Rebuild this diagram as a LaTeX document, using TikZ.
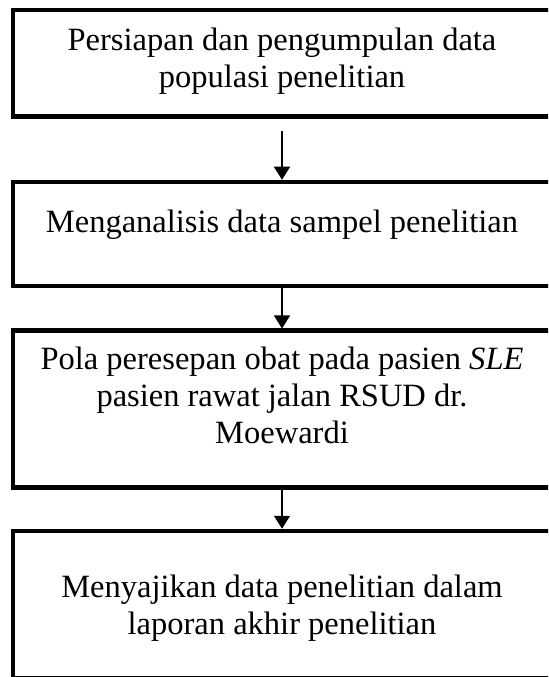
\documentclass[tikz,border=0pt]{standalone}
\usepackage{fontspec}
\setmainfont{Liberation Serif}
\usetikzlibrary{arrows.meta, positioning}

\begin{document}
\begin{tikzpicture}[x=0.4pt, y=-0.4pt,
    every node/.style={align=center, font=\fontsize{13}{14.8}\selectfont},
    stagebox/.style={draw, line width=1.8pt, minimum width=215.2pt, inner sep=0pt},
    arr/.style={-{Triangle[width=6.4pt, length=5.2pt]}, line width=0.5pt}
]
\useasboundingbox (0,0) rectangle (548,677);
\clip (0,0) rectangle (548,677);
% Boxes (right side runs off the page)
\node[stagebox, minimum height=42.6pt] (b1) at (282,63.25) {};
\node[stagebox, minimum height=41.6pt] (b2) at (282,234) {};
\node[stagebox, minimum height=62.6pt] (b3) at (282,409) {};
\node[stagebox, minimum height=58.8pt] (b4) at (282,604.5) {};
% Texts
\node (t1) at (282,61) {Persiapan dan pengumpulan data\\populasi penelitian};
\node (t2) at (282,225) {Menganalisis data sampel penelitian};
\node (t3) at (282,395) {Pola peresepan obat pada pasien \textit{SLE}\\pasien rawat jalan RSUD dr.\\Moewardi};
\node (t4) at (282,608) {Menyajikan data penelitian dalam\\laporan akhir penelitian};
% Arrows
\draw[arr] ([yshift=-5pt]b1.south) -- (b2.north);
\foreach \a/\b in {b2/b3, b3/b4} \draw[arr] (\a.south) -- (\b.north);
\end{tikzpicture}
\end{document}
